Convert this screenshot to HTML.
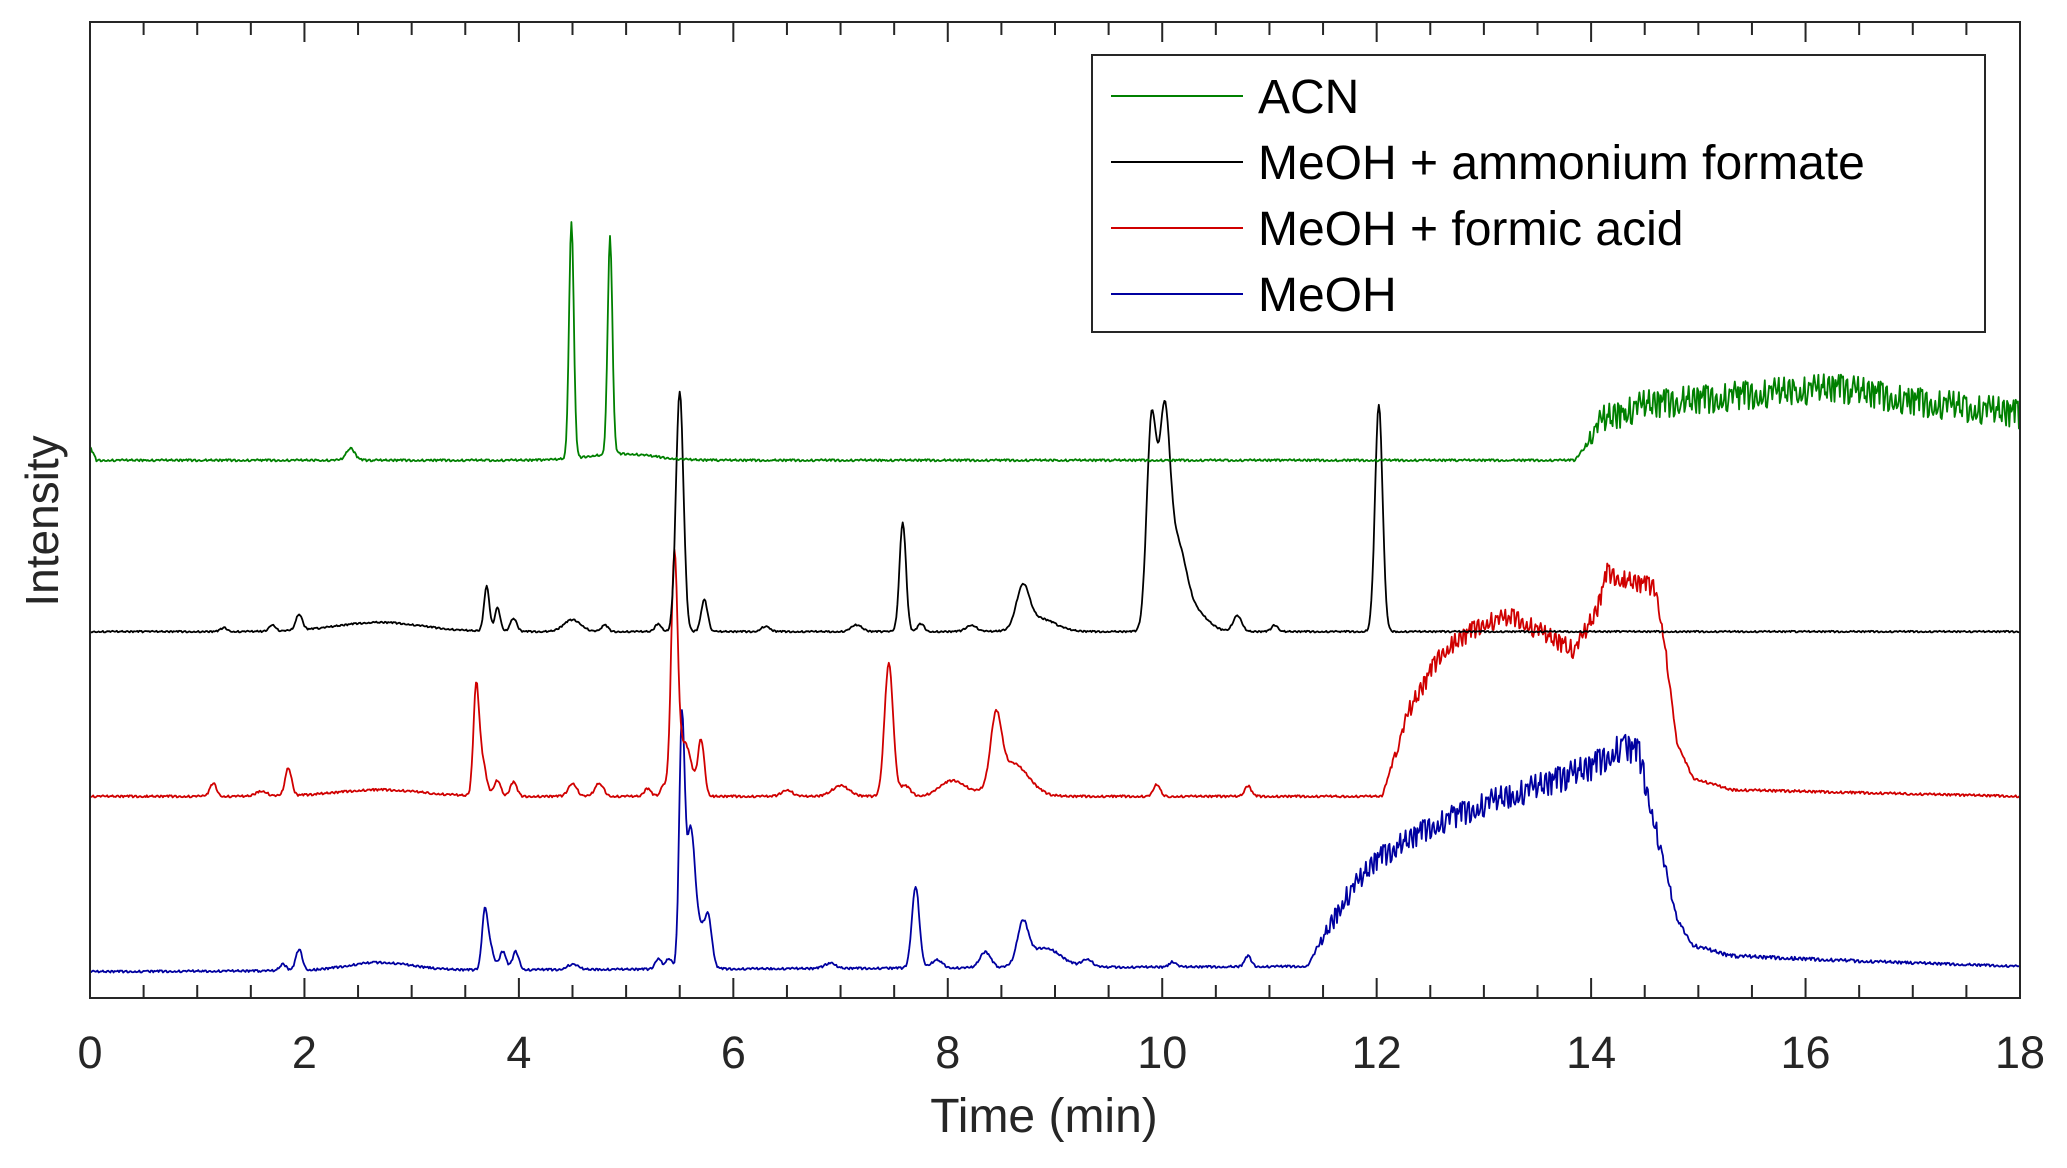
<!DOCTYPE html>
<html><head><meta charset="utf-8"><style>
html,body{margin:0;padding:0;background:#fff;}
svg{display:block;font-family:"Liberation Sans",Arial,sans-serif;}
</style></head><body>
<svg id="chart" width="2067" height="1168" viewBox="0 0 2067 1168" xmlns="http://www.w3.org/2000/svg">
<rect x="0" y="0" width="2067" height="1168" fill="#fff"/>
<g id="series"></g>
<rect x="90" y="22" width="1930" height="976" fill="none" stroke="#262626" stroke-width="2"/>
<g id="ticks"></g>
<text x="1044" y="1132" font-size="48" fill="#262626" text-anchor="middle">Time (min)</text>
<text x="58" y="521" font-size="46" fill="#262626" text-anchor="middle" transform="rotate(-90 58 521)">Intensity</text>
<g>
<rect x="1092" y="55" width="893" height="277" fill="#fff" stroke="#262626" stroke-width="2"/>
<g id="legend-items"></g>
</g>
</svg>
<script>
const xTicks = [0,2,4,6,8,10,12,14,16,18];
const seriesNames = ["ACN","MeOH + ammonium formate","MeOH + formic acid","MeOH"];
const seriesColors = ["#008000","#000000","#d00000","#0000a0"];
const offsets = [408,278,153,20];
const greenBase = [[0,10],[0.06,0],[13.85,0],[14.1,30],[14.5,42],[15.5,50],[16.3,55],[17,45],[18,35]];
const blackBase = [[0,0],[18,0]];
const redBase = [[0,0],[12.05,0],[12.3,64],[12.6,109],[13.0,132],[13.3,136],[13.6,121],[13.85,111],[14.05,140],[14.15,170],[14.3,164],[14.6,159],[14.68,120],[14.8,40],[14.95,14],[15.3,5],[18,0]];
const blueBase = [[0,0],[11.35,4],[11.5,25],[11.7,55],[12.0,85],[12.5,110],[13.0,127],[13.5,140],[14.0,155],[14.3,172],[14.45,165],[14.6,110],[14.8,40],[14.95,20],[15.3,12],[16.5,8],[18,4]];
const greenPeaks = [[2.43,9,0.04],[4.49,180,0.022],[4.85,165,0.022],[4.95,5,0.3]];
const blackPeaks = [[1.25,3,.03],[1.7,5,.03],[1.95,12,.03],[2.7,7,.4],[3.7,34,.025],[3.8,18,.025],[3.95,10,.03],[4.5,9,.08],[4.8,5,.03],[5.3,6,.03],[5.5,182,.035],[5.73,24,.03],[6.3,4,.04],[7.15,5,.05],[7.58,83,.03],[7.75,6,.03],[8.22,5,.05],[8.7,30,.06],[8.85,10,.15],[9.9,158,.045],[10.02,150,.05],[10.14,60,.08],[10.3,15,.12],[10.7,12,.04],[11.05,5,.03],[12.02,172,.035]];
const redPeaks = [[1.15,10,.03],[1.6,4,.05],[1.85,21,.03],[2.7,5,.4],[3.6,72,.025],[3.65,30,.04],[3.8,12,.03],[3.95,11,.03],[4.5,10,.04],[4.75,10,.04],[5.2,6,.03],[5.35,8,.03],[5.45,177,.03],[5.55,40,.06],[5.7,42,.03],[6.5,5,.05],[7.0,8,.08],[7.45,101,.04],[7.6,8,.05],[8.05,12,.12],[8.45,50,.05],[8.6,25,.15],[9.95,9,.03],[10.8,8,.03]];
const bluePeaks = [[1.8,5,.03],[1.95,16,.03],[2.7,6,.3],[3.68,35,.025],[3.72,20,.04],[3.85,14,.03],[3.97,14,.03],[4.5,4,.05],[5.3,8,.03],[5.4,8,.03],[5.52,182,.025],[5.6,100,.04],[5.7,30,.06],[5.77,26,.03],[6.9,4,.05],[7.7,62,.035],[7.9,6,.05],[8.35,12,.05],[8.7,30,.05],[8.9,15,.15],[9.3,6,.05],[10.1,4,.03],[10.8,8,.03]];
const greenNoiseAmp = [[0,0.8],[13.9,0.8],[14.1,11],[18,11]];
const blackNoiseAmp = [[0,0.6],[18,0.6]];
const redNoiseAmp = [[0,0.8],[12.1,0.8],[12.3,7],[14.6,7],[14.8,1],[18,0.8]];
const blueNoiseAmp = [[0,0.8],[11.4,0.8],[11.6,8],[14.5,11],[14.8,1.5],[18,0.8]];
const jitter = [0.3,-0.8,1,-0.2,0.6,-1,0.1,0.9,-0.5,0.4,-0.9,0.7,-0.3,1,-0.6,0.2,-0.1,0.8,-1,0.5,-0.4,0.95,-0.7,0.15,0.6,-0.85,0.35,-0.25,0.75,-0.55,1,-0.95,0.05,0.45,-0.65,0.85,-0.15,-0.75,0.55,0.25,-0.45,0.65,-1,0.9,-0.35,0.1,-0.6,0.4,0.8,-0.2,-0.9,0.3];

const X0=90,X1=2020,Y0=998,Y1=22, K=1.318;
const xs = t => X0 + (t/18)*(X1-X0);
const ys = v => Y0 - v*K;
function interp(knots,t){for(let i=1;i<knots.length;i++){if(t<=knots[i][0]){const a=knots[i-1],b=knots[i];return a[1]+(b[1]-a[1])*(t-a[0])/(b[0]-a[0]);}}return knots[knots.length-1][1];}
const NS="http://www.w3.org/2000/svg";
const bases=[greenBase,blackBase,redBase,blueBase];
const peaks=[greenPeaks,blackPeaks,redPeaks,bluePeaks];
const amps=[greenNoiseAmp,blackNoiseAmp,redNoiseAmp,blueNoiseAmp];
const keys=["acn","meoh-ammonium-formate","meoh-formic-acid","meoh"];
const sg=document.getElementById('series');
for(let s=3;s>=0;s--){
  let d="";
  for(let i=0;i<=1800;i++){
    const t=i*0.01;
    let v=interp(bases[s],t);
    for(const p of peaks[s]){const z=(t-p[0])/p[2];if(Math.abs(z)<6)v+=p[1]*Math.exp(-0.5*z*z);}
    v+=interp(amps[s],t)*jitter[(i*7+s*11+Math.floor(i/53))%jitter.length];
    d+=(i?"L":"M")+xs(t).toFixed(1)+" "+ys(offsets[s]+v).toFixed(1);
  }
  const p=document.createElementNS(NS,'path');
  p.setAttribute('d',d);p.setAttribute('fill','none');p.setAttribute('stroke',seriesColors[s]);p.setAttribute('stroke-width','1.8');p.setAttribute('stroke-linejoin','round');
  
  
  sg.appendChild(p);
}
const tg=document.getElementById('ticks');
for(let k=0;k<=36;k++){
  const t=k*0.5, x=xs(t), major=(k%4===0), L=major?20:13;
  for(const [ya,yb] of [[Y0,Y0-L],[Y1,Y1+L]]){
    const ln=document.createElementNS(NS,'line');
    ln.setAttribute('x1',x);ln.setAttribute('x2',x);ln.setAttribute('y1',ya);ln.setAttribute('y2',yb);ln.setAttribute('stroke','#262626');ln.setAttribute('stroke-width','2');
    
    
    tg.appendChild(ln);
  }
}
for(const v of xTicks){
  const tx=document.createElementNS(NS,'text');
  tx.setAttribute('x',xs(v));tx.setAttribute('y',1068);tx.setAttribute('font-size','45');tx.setAttribute('fill','#262626');tx.setAttribute('text-anchor','middle');
  tx.textContent=v;
  
  
  tg.appendChild(tx);
}
const lg=document.getElementById('legend-items');
seriesNames.forEach((n,i)=>{
  const y=96+i*66;
  const ln=document.createElementNS(NS,'line');
  ln.setAttribute('x1',1111);ln.setAttribute('x2',1243);ln.setAttribute('y1',y);ln.setAttribute('y2',y);ln.setAttribute('stroke',seriesColors[i]);ln.setAttribute('stroke-width','2');
  
  
  lg.appendChild(ln);
  const tx=document.createElementNS(NS,'text');
  tx.setAttribute('x',1258);tx.setAttribute('y',y+17);tx.setAttribute('font-size','48');tx.setAttribute('fill','#000');
  tx.textContent=n;
  
  
  lg.appendChild(tx);
});
</script>
</body></html>
